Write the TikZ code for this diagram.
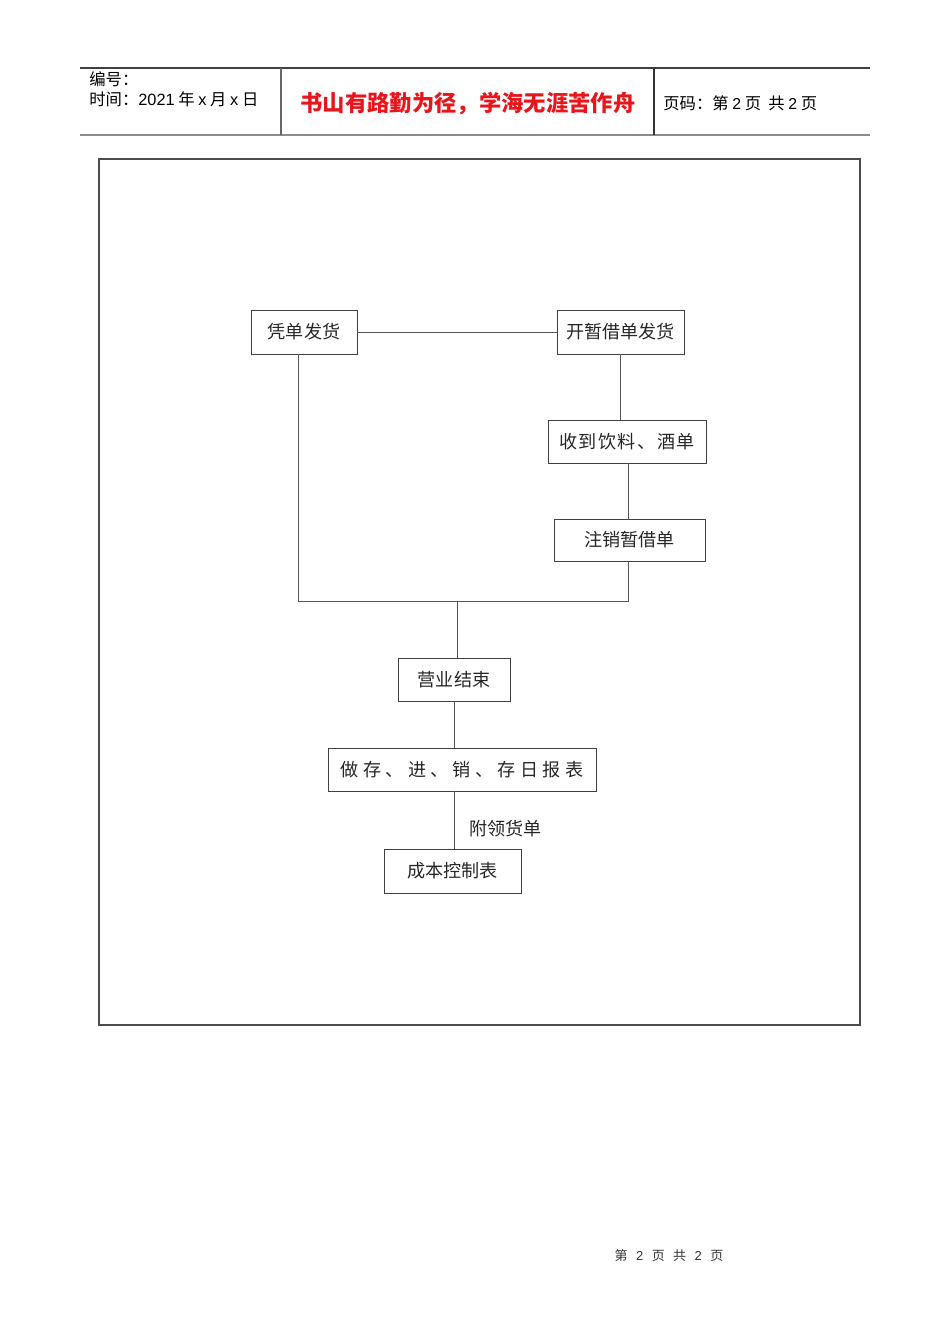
\documentclass[tikz,border=0pt]{standalone}
\usepackage{fontspec}
\setmainfont{Noto Sans CJK SC}
\newfontfamily\latinf{Liberation Sans}
\definecolor{boxline}{HTML}{404040}
\definecolor{conn}{HTML}{555555}
\definecolor{redtxt}{HTML}{E8151B}
\begin{document}
\begin{tikzpicture}[x=0.02cm,y=-0.02cm,
  box/.style={draw=boxline,line width=0.5pt,inner sep=0pt,font=\fontsize{10.3}{12}\selectfont,text=black!85},
  conn/.style={draw=conn,line width=0.5pt},
  hdr/.style={inner sep=0pt,anchor=west,font=\fontsize{9.3}{10}\selectfont}]
\useasboundingbox (0,0) rectangle (950,1344);
% header
\draw[black!75,line width=0.6pt] (80,68) -- (870,68);
\draw[black!45,line width=1pt] (80,135) -- (870,135);
\draw[black!60,line width=0.6pt] (281,68) -- (281,135);
\draw[black!80,line width=0.6pt] (654,68) -- (654,135);
\node[hdr] (h1) at (89,79) {编号：};
\node[hdr] (h2) at (89,99) {时间：{\latinf 2021} 年 {\latinf x} 月 {\latinf x} 日};
\node[inner sep=0pt,text=redtxt,font=\fontsize{12.7}{13}\bfseries\selectfont] (h3) at (468,104) {书山有路勤为径，学海无涯苦作舟};
\node[hdr] (h4) at (663,103) {页码：第 {\latinf\small 2} 页\ \ 共 {\latinf\small 2} 页};
% frame
\draw[black!70,line width=0.6pt] (99,159) rectangle (860,1025);
% boxes
\node[box,minimum width=106*0.02cm,minimum height=44*0.02cm] (a) at (304,332) {凭单发货};
\node[box,minimum width=127*0.02cm,minimum height=44*0.02cm] (b) at (620.5,332) {开暂借单发货};
\node[box,minimum width=158*0.02cm,minimum height=43*0.02cm] (c) at (627,441.5) {\addfontfeature{LetterSpace=8}收到饮料、酒单};
\node[box,minimum width=151*0.02cm,minimum height=42*0.02cm] (e) at (629.5,540) {注销暂借单};
\node[box,minimum width=112*0.02cm,minimum height=43*0.02cm] (f) at (454,679.5) {营业结束};
\node[box,minimum width=268*0.02cm,minimum height=43*0.02cm] (g) at (462,769.5) {\addfontfeature{LetterSpace=24}做存、进、销、存日报表};
\node[box,minimum width=137*0.02cm,minimum height=44*0.02cm] (k) at (452.5,871) {成本控制表};
\coordinate (j) at (457,601);
% connectors
\draw[conn] (a.east) -- (a.east -| b.west);
\draw[conn] (b.south) -- (b.south |- c.north);
\draw[conn] ([xshift=1*0.02cm]c.south) -- ([xshift=1*0.02cm]c.south |- e.north);
\draw[conn] ([xshift=-1.5*0.02cm]e.south) |- (j);
\draw[conn] (j) -| ([xshift=-6*0.02cm]a.south);
\draw[conn] (j) -- (j |- f.north);
\draw[conn] (f.south) -- (f.south |- g.north);
\draw[conn] ([xshift=-8*0.02cm]g.south) -- node[right=15*0.02cm,pos=0.65,inner sep=0pt,font=\fontsize{10.3}{12}\selectfont,text=black!85] (lbl) {附领货单} ([xshift=-8*0.02cm]g.south |- k.north);
% footer
\node[inner sep=0pt,font=\fontsize{7.4}{8}\selectfont,text=black!80] (ft) at (669,1256) {第\hspace{0.65em}{\latinf 2}\hspace{0.65em}页\hspace{0.65em}共\hspace{0.65em}{\latinf 2}\hspace{0.65em}页};
\end{tikzpicture}
\end{document}
